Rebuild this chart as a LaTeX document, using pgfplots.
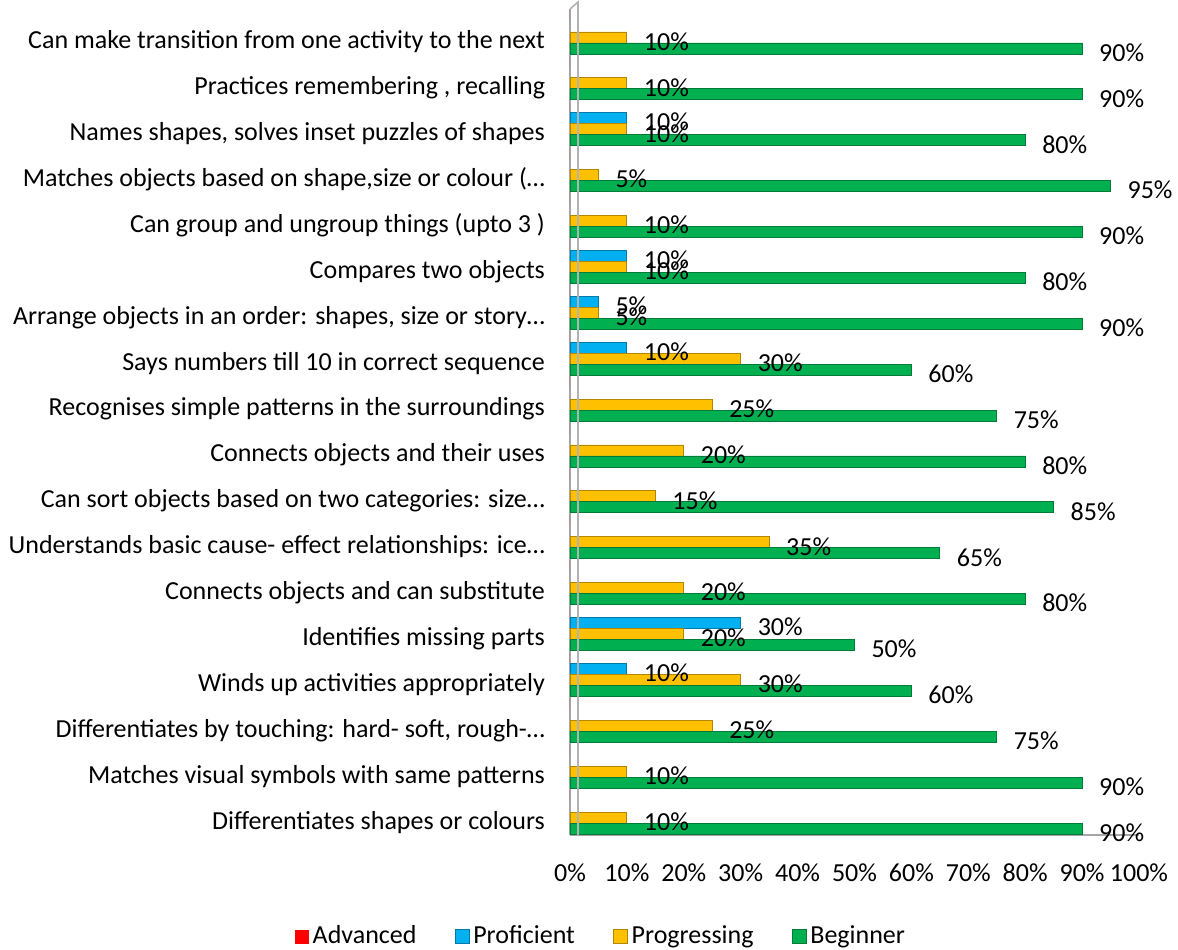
\documentclass[border=0pt]{standalone}
\usepackage{pgfplots}
\pgfplotsset{compat=1.18}
\usepackage{fontspec}
\setmainfont{Carlito}
\definecolor{cRed}{HTML}{FF0000}
\definecolor{cBlue}{HTML}{00B0F0}
\definecolor{cYel}{HTML}{FFC000}
\definecolor{cGreen}{HTML}{00B050}
\newcommand{\chartfont}{\fontsize{13}{15.6}\selectfont}
\begin{document}
\chartfont
\begin{tikzpicture}
\useasboundingbox (-285pt,-57pt) rectangle (304pt,417.5pt);
\begin{axis}[
  at={(0,0)}, anchor=south west,
  scale only axis, width=284.5pt, height=413pt,
  xbar=0pt, bar width=0.24,
  y dir=reverse,
  xmin=0, xmax=100, ymin=-0.5, ymax=17.5,
  enlargelimits=false, clip=false,
  ytick={0,...,17},
  yticklabels={
    {Can make transition from one activity to the next},
    {Practices remembering , recalling},
    {Names shapes, solves inset puzzles of shapes},
    {Matches objects based on shape,size or colour (…},
    {Can group and ungroup things (upto 3 )},
    {Compares two objects},
    {Arrange objects in an order: shapes, size or story…},
    {Says numbers till 10 in correct sequence},
    {Recognises simple patterns in the surroundings},
    {Connects objects and their uses},
    {Can sort objects based on two categories: size…},
    {Understands basic cause- effect relationships: ice…},
    {Connects objects and can substitute},
    {Identifies missing parts},
    {Winds up activities appropriately},
    {Differentiates by touching: hard- soft, rough-…},
    {Matches visual symbols with same patterns},
    {Differentiates shapes or colours}},
  xtick={0,10,...,100},
  xticklabel={\pgfmathprintnumber{\tick}\%},
  /pgf/number format/assume math mode=true,
  xticklabel style={yshift=-10pt, font=\chartfont},
  yticklabel style={xshift=-8pt, yshift=-5pt, align=right, font=\chartfont},
  axis x line*=bottom, axis y line*=left,
  axis line style={draw=gray!70, line width=1pt},
  major tick length=0pt,
  point meta=x,
  every node near coord/.append style={font=\chartfont, xshift=4pt, yshift=-2pt, text=black},
  legend style={at={(0.056,-0.123)}, anchor=center, draw=none, legend columns=4,
    font=\chartfont,
    /tikz/every even column/.append style={column sep=17pt}},
  legend image code/.code={\fill[#1] (0pt,-3.5pt) rectangle (7pt,3.5pt);},
]
\addplot[fill=cRed, draw=none] coordinates {
 (0,0) (0,1) (0,2) (0,3) (0,4) (0,5) (0,6) (0,7) (0,8) (0,9)
 (0,10) (0,11) (0,12) (0,13) (0,14) (0,15) (0,16) (0,17)};
\addplot[fill=cBlue, draw=cBlue!70!black, line width=0.4pt,
  nodes near coords={\pgfmathprintnumber{\pgfplotspointmeta}\%}] coordinates {
 (10,2) (10,5) (5,6) (10,7) (30,13) (10,14)};
\addplot[fill=cYel, draw=cYel!70!black, line width=0.4pt,
  nodes near coords={\pgfmathprintnumber{\pgfplotspointmeta}\%}] coordinates {
 (10,0) (10,1) (10,2) (5,3) (10,4) (10,5) (5,6) (30,7) (25,8) (20,9)
 (15,10) (35,11) (20,12) (20,13) (30,14) (25,15) (10,16) (10,17)};
\addplot[fill=cGreen, draw=cGreen!70!black, line width=0.4pt,
  nodes near coords={\pgfmathprintnumber{\pgfplotspointmeta}\%}] coordinates {
 (90,0) (90,1) (80,2) (95,3) (90,4) (80,5) (90,6) (60,7) (75,8) (80,9)
 (85,10) (65,11) (80,12) (50,13) (60,14) (75,15) (90,16) (90,17)};
\legend{Advanced, Proficient, Progressing, Beginner}
\draw[gray!60, line width=0.8pt] (rel axis cs:0,1) -- ++(4pt,3.5pt) -- ([xshift=4pt]rel axis cs:0,0);
\end{axis}
\end{tikzpicture}
\end{document}
